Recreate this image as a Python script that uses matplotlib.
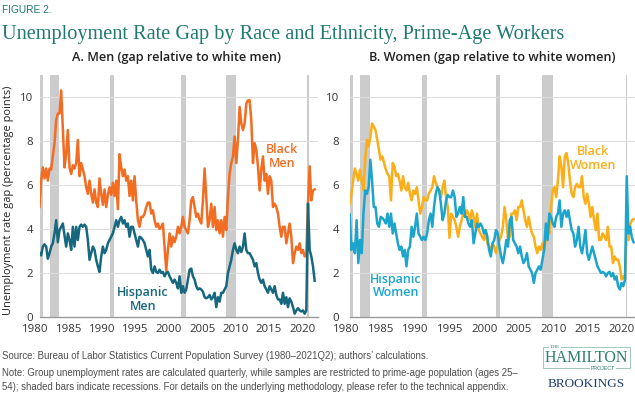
import matplotlib
matplotlib.use("Agg")
import matplotlib.pyplot as plt
from matplotlib.patches import Rectangle
import matplotlib.transforms as mtransforms
import numpy as np

# quarterly gaps, 1980Q1 - 2021Q2 (percentage points)
black_men = [
    5.0, 6.2, 6.8, 6.3,   6.75, 6.2, 6.75, 6.7,   7.3, 7.9, 8.95, 9.25,
    9.25, 10.3, 8.5, 6.8,  7.4, 8.5, 6.8, 6.5,    6.9, 6.75, 7.0, 8.05,
    6.4, 7.0, 6.7, 6.4,   5.9, 5.6, 6.2, 5.6,    5.2, 5.8, 5.2, 5.0,
    6.3, 5.6, 5.1, 5.8,   5.0, 5.55, 5.9, 5.55,  6.1, 5.5, 6.2, 4.9,
    7.4, 6.8, 6.4, 6.7,   6.2, 6.4, 5.5, 6.2,    5.3, 6.4, 5.3, 4.4,
    4.1, 4.55, 4.55, 4.7, 5.0, 5.2, 5.2, 4.7,    4.85, 4.4, 4.1, 4.25,
    4.0, 4.1, 4.25, 3.2,  2.1, 3.05, 3.8, 3.2,   3.65, 3.4, 3.65, 4.1,
    3.8, 4.1, 4.55, 4.1,  3.95, 3.8, 4.4, 5.3,   5.45, 5.0, 4.55, 4.7,
    4.4, 4.25, 5.3, 6.75, 5.45, 4.1, 4.4, 5.15,  4.1, 5.0, 3.95, 4.4,
    3.8, 4.4, 3.65, 4.55, 3.95, 5.45, 6.5, 7.0,  7.3, 8.2, 7.0, 8.05,
    9.55, 8.8, 8.5, 8.8,  9.7, 9.85, 9.85, 8.95, 7.0, 7.9, 7.6, 6.85,
    5.75, 6.7, 7.3, 6.2,  6.5, 5.6, 6.4, 6.2,    5.0, 5.15, 5.0, 4.7,
    4.1, 3.65, 4.1, 4.1,  3.35, 3.8, 4.25, 3.65, 2.45, 2.9, 3.2, 3.05,
    3.35, 2.9, 3.05, 2.75, 2.9, 5.15, 6.85, 5.3, 5.75, 5.8,
]
hispanic_men = [
    2.9, 2.8, 3.2, 3.3,   3.2, 2.65, 2.9, 3.2,   3.35, 3.8, 4.4, 3.4,
    3.95, 4.1, 4.25, 3.7, 3.2, 3.8, 3.5, 3.05,   4.1, 3.2, 4.1, 3.5,
    4.1, 4.2, 4.1, 4.2,   4.1, 3.5, 2.6, 2.9,    3.2, 3.05, 2.6, 2.3,
    2.05, 2.75, 3.2, 2.9, 3.05, 3.35, 3.5, 3.65, 3.8, 4.1, 4.4, 4.1,
    4.4, 4.55, 4.25, 4.4, 4.1, 4.25, 3.65, 4.1,  4.1, 3.8, 3.5, 3.2,
    3.65, 3.6, 3.5, 3.35, 3.05, 2.75, 3.05, 2.15, 2.0, 2.3, 2.05, 2.0,
    2.15, 2.0, 2.05, 1.85, 2.0, 2.05, 1.85, 1.7, 1.55, 1.7, 1.55, 1.3,
    1.85, 1.1, 1.4, 1.1,  1.25, 1.7, 2.15, 2.2,  1.85, 1.7, 1.4, 1.25,
    1.3, 1.25, 1.15, 0.9, 0.85, 0.9, 1.0, 0.8,   0.9, 1.1, 0.45, 0.9,
    0.7, 1.1, 1.1, 1.25,  1.4, 2.0, 2.3, 2.6,    3.05, 3.35, 3.05, 2.9,
    3.2, 2.95, 3.2, 3.8,  3.05, 2.9, 2.9, 2.75,  2.6, 2.3, 2.45, 2.0,
    1.7, 1.55, 1.7, 1.4,  1.25, 1.1, 1.4, 1.25,  1.1, 1.4, 1.0, 0.8,
    0.8, 0.6, 1.1, 0.6,   0.9, 0.45, 0.85, 0.7,  0.45, 0.15, 0.3, 0.4,
    0.3, 0.25, 0.3, 0.15, 0.3, 5.15, 3.05, 2.75, 2.3, 1.65,
]
black_women = [
    5.15, 5.6, 6.2, 6.75, 6.5, 6.2, 6.7, 6.2,    5.75, 7.15, 8.05, 7.75,
    8.2, 8.8, 8.65, 8.5,  8.05, 7.6, 7.15, 7.3,  7.0, 6.7, 6.5, 6.4,
    5.3, 7.0, 6.85, 6.4,  6.5, 6.2, 5.75, 6.4,   5.9, 5.75, 6.1, 5.6,
    5.3, 5.75, 5.6, 5.9,  5.3, 4.7, 5.0, 5.45,   5.3, 5.3, 5.6, 5.75,
    5.9, 6.4, 6.1, 5.9,   5.75, 5.45, 5.9, 6.2,  5.45, 5.0, 3.6, 4.7,
    4.55, 4.4, 4.1, 3.65, 4.1, 4.4, 4.7, 4.55,   4.85, 4.7, 4.4, 4.85,
    4.55, 4.1, 4.7, 3.95, 3.8, 3.65, 3.5, 3.95,  3.35, 3.2, 3.05, 3.35,
    3.2, 2.9, 3.2, 3.5,   3.65, 4.1, 5.0, 4.4,   3.5, 3.65, 4.7, 4.7,
    4.85, 4.4, 5.0, 5.0,  5.3, 4.85, 4.4, 4.1,   4.55, 4.1, 3.8, 3.65,
    3.2, 2.9, 3.2, 3.05,  3.35, 3.05, 3.5, 4.25, 3.8, 5.0, 5.75, 5.9,
    5.45, 6.2, 7.3, 6.85, 5.9, 7.3, 7.45, 7.0,   6.2, 5.6, 5.45, 5.9,
    6.05, 5.9, 5.9, 6.4,  5.45, 5.15, 5.6, 5.15, 4.55, 5.0, 4.4, 3.95,
    4.7, 3.5, 3.5, 3.8,   3.65, 3.5, 4.1, 3.2,   3.2, 2.45, 2.75, 2.6,
    2.6, 2.3, 1.7, 1.85,  1.7, 4.0, 3.5, 4.2,    4.4, 4.45,
]
hispanic_women = [
    4.65, 3.05, 3.35, 2.9, 4.4, 2.45, 3.5, 2.9,  4.7, 5.75, 5.6, 5.9,
    7.15, 6.2, 5.0, 5.0,  4.25, 4.1, 4.55, 4.5,  4.4, 4.25, 4.7, 4.1,
    4.7, 3.8, 4.25, 3.8,  3.35, 3.05, 3.2, 2.75, 3.05, 2.3, 3.05, 3.2,
    4.1, 3.65, 4.1, 4.7,  3.8, 3.65, 3.5, 3.65,  3.5, 3.8, 4.4, 4.7,
    4.1, 5.0, 5.6, 5.9,   5.75, 5.15, 4.4, 4.7,  5.3, 5.55, 5.45, 5.45,
    5.75, 5.45, 4.55, 4.7, 5.0, 4.7, 5.45, 4.55, 4.55, 4.25, 4.1, 4.4,
    3.35, 3.8, 4.25, 4.1, 4.25, 4.1, 3.8, 3.95,  3.65, 3.05, 2.75, 3.35,
    3.5, 3.95, 3.8, 3.2,  2.75, 2.45, 2.9, 3.5,  3.2, 4.4, 4.55, 3.5,
    3.35, 3.2, 2.9, 3.2,  2.75, 2.45, 2.6, 2.9,  2.3, 2.15, 2.0, 1.55,
    2.0, 2.15, 2.3, 2.15, 2.6, 3.05, 4.25, 3.5,  4.7, 4.55, 4.25, 4.1,
    4.55, 4.7, 5.3, 4.1,  4.7, 4.85, 4.55, 4.85, 4.4, 3.95, 3.8, 3.2,
    3.5, 4.1, 3.2, 2.9,   3.35, 3.95, 2.9, 2.6,  2.9, 3.2, 2.9, 2.6,
    2.3, 2.15, 2.0, 2.05, 2.0, 1.85, 2.0, 2.05,  1.85, 2.0, 1.7, 1.85,
    1.4, 1.25, 1.55, 1.4, 1.7, 6.4, 3.8, 4.1,    3.6, 3.4,
]
quarters = 1980 + np.arange(len(black_men)) / 4.0

recessions = [(1980.0, 1980.5), (1981.5, 1982.9), (1990.5, 1991.2),
              (2001.2, 2001.9), (2007.9, 2009.5), (2020.1, 2020.35)]
year_ticks = [1980, 1985, 1990, 1995, 2000, 2005, 2010, 2015, 2020]
y_ticks = [0, 2, 4, 6, 8, 10]

TEAL = "#1f7a72"
ORANGE = "#f26c22"
DARK_TEAL = "#17687e"
GOLD = "#fbae17"
LIGHT_BLUE = "#1ba4cc"
SANS = "Open Sans"

W, H = 635, 400
fig = plt.figure(figsize=(W / 100, H / 100), dpi=100)


def px_box(x0, x1, ytop, ybot):
    return [x0 / W, 1 - ybot / H, (x1 - x0) / W, (ybot - ytop) / H]


def style_panel(ax, xmax, ypad, label_shift):
    ax.set_xlim(1980, xmax)
    ax.set_ylim(0, 11)
    for start, end in recessions:
        ax.axvspan(start, end, color="#cccccc", lw=0, zorder=0)
    for y in y_ticks[1:]:
        ax.axhline(y, color="#dcdcdc", lw=0.8, zorder=0.5)
    for side in ["left", "right", "top"]:
        ax.spines[side].set_visible(False)
    ax.spines["bottom"].set_color("#9a9a9a")
    ax.spines["bottom"].set_linewidth(1.0)
    ax.set_xticks(year_ticks)
    ax.set_yticks(y_ticks)
    ax.tick_params(axis="both", length=0, labelsize=8.2, labelcolor="#333333")
    ax.tick_params(axis="x", pad=5)
    ax.tick_params(axis="y", pad=ypad)
    for lab in ax.get_xticklabels() + ax.get_yticklabels():
        lab.set_fontfamily(SANS)
    shift = mtransforms.ScaledTranslation(label_shift / 100, 0, fig.dpi_scale_trans)
    for lab in ax.get_xticklabels():
        lab.set_transform(lab.get_transform() + shift)


# panel A: men
axA = fig.add_axes(px_box(39.5, 318, 75, 317))
style_panel(axA, 2021.75, 4.5, -4)
axA.plot(quarters, black_men, color=ORANGE, lw=1.8, zorder=3)
axA.plot(quarters, hispanic_men, color=DARK_TEAL, lw=1.8, zorder=3)
axA.text(2016.4, 7.3, "Black\nMen", color=ORANGE, fontsize=9, fontfamily=SANS,
         fontweight="semibold", ha="center", va="center", linespacing=1.05)
axA.text(1995.5, 0.8, "Hispanic\nMen", color=DARK_TEAL, fontsize=9, fontfamily=SANS,
         fontweight="semibold", ha="center", va="center", linespacing=1.05)
fig.text(8.5 / W, 1 - 200 / H, "Unemployment rate gap (percentage points)", rotation=90,
         fontsize=7.9, fontfamily=SANS, color="#222222", ha="center", va="center")

# panel B: women
axB = fig.add_axes(px_box(349.7, 635, 75, 317))
style_panel(axB, 2021.45, 7.5, -3)
axB.plot(quarters, black_women, color=GOLD, lw=1.8, zorder=3)
axB.plot(quarters, hispanic_women, color=LIGHT_BLUE, lw=1.8, zorder=3)
axB.text(2015.4, 7.2, "Black\nWomen", color=GOLD, fontsize=9, fontfamily=SANS,
         fontweight="semibold", ha="center", va="center", linespacing=1.05)
axB.text(1986.7, 1.4, "Hispanic\nWomen", color=LIGHT_BLUE, fontsize=9, fontfamily=SANS,
         fontweight="semibold", ha="center", va="center", linespacing=1.05)

# titles
fig.text(2 / W, 1 - 10 / H, "FIGURE 2.", color=TEAL, fontsize=7.3,
         fontfamily="Liberation Sans", va="center", ha="left")
fig.text(2 / W, 1 - 35 / H,
         "Unemployment Rate Gap by Race and Ethnicity, Prime-Age Workers",
         color=TEAL, fontsize=14.6, fontfamily="Liberation Serif", va="center", ha="left")
fig.text(177 / W, 1 - 58 / H, "A. Men (gap relative to white men)", fontsize=9.1,
         fontfamily=SANS, fontweight="semibold", color="#222222", ha="center", va="center")
fig.text(492 / W, 1 - 58 / H, "B. Women (gap relative to white women)", fontsize=9.1,
         fontfamily=SANS, fontweight="semibold", color="#222222", ha="center", va="center")

# footer
foot = dict(fontsize=6.95, fontfamily="Liberation Sans", color="#4d4d4d",
            ha="left", va="center")
fig.text(2 / W, 1 - 356 / H,
         "Source: Bureau of Labor Statistics Current Population Survey (1980\u20132021Q2); "
         "authors\u2019 calculations.", **foot)
fig.text(2 / W, 1 - 373 / H,
         "Note: Group unemployment rates are calculated quarterly, while samples are "
         "restricted to prime-age population (ages 25\u2013", **foot)
fig.text(2 / W, 1 - 387 / H,
         "54); shaded bars indicate recessions. For details on the underlying "
         "methodology, please refer to the technical appendix.", **foot)

# logo
green = "#2f7f6e"
fig.add_artist(Rectangle((543 / W, 1 - 368 / H), 87 / W, 21 / H, transform=fig.transFigure,
                         fill=False, edgecolor="#8fbfb0", lw=0.6))
fig.text(555 / W, 1 - 347 / H, "THE", fontsize=3.8, fontfamily="Liberation Serif",
         color=green, ha="center", va="center",
         bbox=dict(facecolor="white", edgecolor="none", pad=0.6))
fig.text(586.5 / W, 1 - 358 / H, "HAMILTON", fontsize=11.5, fontfamily="Liberation Serif",
         color=green, ha="center", va="center")
fig.text(603 / W, 1 - 368 / H, "PROJECT", fontsize=3.8, fontfamily="Liberation Sans",
         color=green, ha="center", va="center",
         bbox=dict(facecolor="white", edgecolor="none", pad=0.6))
fig.text(586.5 / W, 1 - 384 / H, "BROOKINGS", fontsize=9.5, fontfamily="Liberation Serif",
         color="#1d3f6e", ha="center", va="center")

fig.savefig("out.png", dpi=100)
